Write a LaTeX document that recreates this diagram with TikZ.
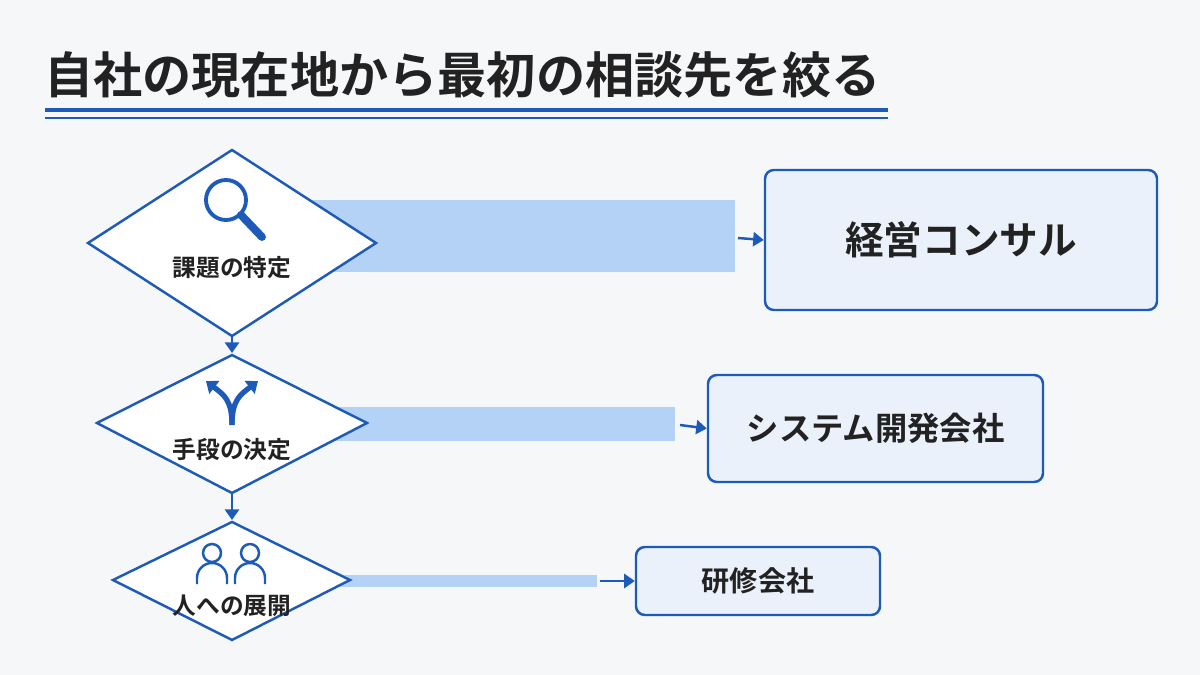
\documentclass[tikz,border=0pt]{standalone}
\usepackage{fontspec}
\newfontfamily\cjk{Noto Sans CJK JP}[BoldFont={* Bold}]
\usetikzlibrary{arrows.meta}
\definecolor{bl}{HTML}{1E5BB8}
\definecolor{band}{HTML}{B3D2F5}
\definecolor{boxf}{HTML}{EAF1FB}
\definecolor{bg}{HTML}{F6F7F9}
\definecolor{ink}{HTML}{222222}
\begin{document}
\begin{tikzpicture}[x=0.02cm,y=-0.02cm,
  dia/.style={draw=bl,line width=1.4pt,fill=white},
  box/.style={draw=bl,line width=1.4pt,fill=boxf,rounded corners=5pt},
  lab/.style={font=\cjk\bfseries,text=ink},
  tip/.style={-{Triangle[length=6pt,width=8pt]},bl,line width=1.4pt},
  ico/.style={bl,line width=3pt}]
\fill[bg] (0,0) rectangle (1200,675);
\useasboundingbox (0,0) rectangle (1200,675);
\node[lab,anchor=west,font=\cjk\bfseries\fontsize{28}{32}\selectfont] (title) at (38,75) {自社の現在地から最初の相談先を絞る};
\draw[bl,line width=2.4pt] (45,110) -- (888,110);
\draw[bl,line width=1.2pt] (45,118) -- (888,118);
% bands
\fill[band] (300,200) rectangle (735,272);
\fill[band] (330,407) rectangle (675,441);
\fill[band] (330,575) rectangle (597,587);
% diamonds
\draw[dia] (88,243) -- (232,150) -- (376,243) -- (232,336) -- cycle;
\draw[dia] (97,423) -- (232,355) -- (367,423) -- (232,493) -- cycle;
\draw[dia] (113,580) -- (232,522) -- (350,580) -- (232,640) -- cycle;
\coordinate (d1b) at (232,336); \coordinate (d2t) at (232,353);
\coordinate (d2b) at (232,493); \coordinate (d3t) at (232,520);
\draw[tip] (d1b) -- (d2t);
\draw[tip] (d2b) -- (d3t);
% boxes
\node[box,minimum width=392*0.02cm,minimum height=140*0.02cm,lab,font=\cjk\bfseries\fontsize{22}{26}\selectfont] (b1) at (961,240) {経営コンサル};
\node[box,minimum width=335*0.02cm,minimum height=107*0.02cm,lab,font=\cjk\bfseries\fontsize{18.4}{22}\selectfont] (b2) at (875.5,428.5) {システム開発会社};
\node[box,minimum width=244*0.02cm,minimum height=68*0.02cm,lab,font=\cjk\bfseries\fontsize{16}{20}\selectfont] (b3) at (758,581) {研修会社};
\coordinate (a1) at (738,238); \coordinate (a2) at (680,425); \coordinate (a3) at (600,581);
\draw[tip] (a1) -- (b1.west);
\draw[tip] (a2) -- (b2.west);
\draw[tip] (a3) -- (b3.west);
% labels
\node[lab,font=\cjk\bfseries\fontsize{13.5}{16}\selectfont] (l1) at (232,268) {課題の特定};
\node[lab,font=\cjk\bfseries\fontsize{13.5}{16}\selectfont] (l2) at (232,450) {手段の決定};
\node[lab,font=\cjk\bfseries\fontsize{13.5}{16}\selectfont] (l3) at (232,606) {人への展開};
% icons
\draw[bl,line width=2.2pt] (226,200) circle (20);
\draw[bl,line width=4.5pt,line cap=round] (241,215) -- (262,237);
\draw[ico,-{Triangle[length=6pt,width=9pt]}] (232,425) .. controls (232,400) and (224,395) .. (206,381);
\draw[ico,-{Triangle[length=6pt,width=9pt]}] (232,425) .. controls (232,400) and (240,395) .. (258,381);
\foreach \cx in {212,250}{
  \draw[bl,line width=1.4pt] (\cx,553) circle (9);
  \draw[bl,line width=1.4pt] (\cx-15,584) -- (\cx-15,578) arc (180:360:15) -- (\cx+15,584);
}
\end{tikzpicture}
\end{document}
